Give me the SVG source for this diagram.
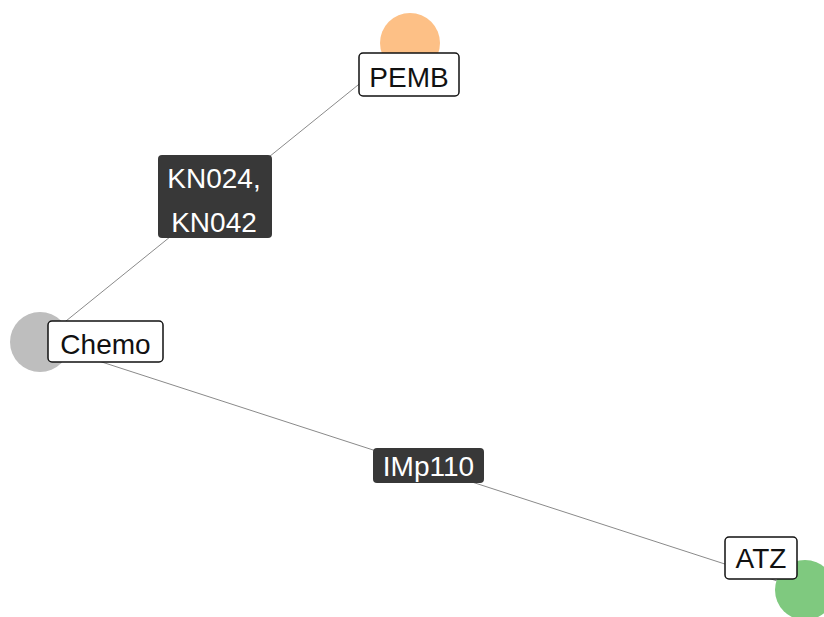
<svg xmlns="http://www.w3.org/2000/svg" width="824" height="617" viewBox="0 0 824 617">
<style>
.edge{stroke:#8a8a8a;stroke-width:1;fill:none}
.nlab rect{fill:#fff;stroke:#111;stroke-width:1.5}
.nlab text{fill:#111;font-family:"Liberation Sans",Arial,sans-serif;font-size:28px;text-anchor:middle}
.elab rect{fill:#383838;stroke:none}
.elab text{fill:#fff;font-family:"Liberation Sans",Arial,sans-serif;font-size:28px;text-anchor:middle}
</style>
<rect width="824" height="617" fill="#fff"/>
<g id="edges">
<line class="edge" x1="410" y1="43" x2="40" y2="342"/>
<line class="edge" x1="40" y1="342" x2="805" y2="590"/>
</g>
<g id="node-PEMB">
<circle cx="410" cy="43" r="30" fill="#FDC086"/>
</g>
<g id="node-Chemo">
<circle cx="40" cy="342" r="30" fill="#BEBEBE"/>
</g>
<g id="node-ATZ">
<circle cx="805" cy="590" r="30" fill="#7FC97F"/>
</g>
<g id="edge-label-KN" class="elab">
<rect x="158" y="155" width="114" height="83" rx="4"/>
<text x="214" y="188">KN024,</text>
<text x="214" y="232">KN042</text>
</g>
<g id="edge-label-IMp110" class="elab">
<rect x="373" y="448" width="111" height="35" rx="4"/>
<text x="428.5" y="476">IMp110</text>
</g>
<g id="label-PEMB" class="nlab">
<rect x="359" y="53" width="100" height="43" rx="4"/>
<text x="409" y="87">PEMB</text>
</g>
<g id="label-Chemo" class="nlab">
<rect x="48" y="321" width="115" height="41" rx="4"/>
<text x="105.5" y="354">Chemo</text>
</g>
<g id="label-ATZ" class="nlab">
<rect x="725" y="537" width="72" height="42" rx="4"/>
<text x="761" y="568">ATZ</text>
</g>
</svg>
